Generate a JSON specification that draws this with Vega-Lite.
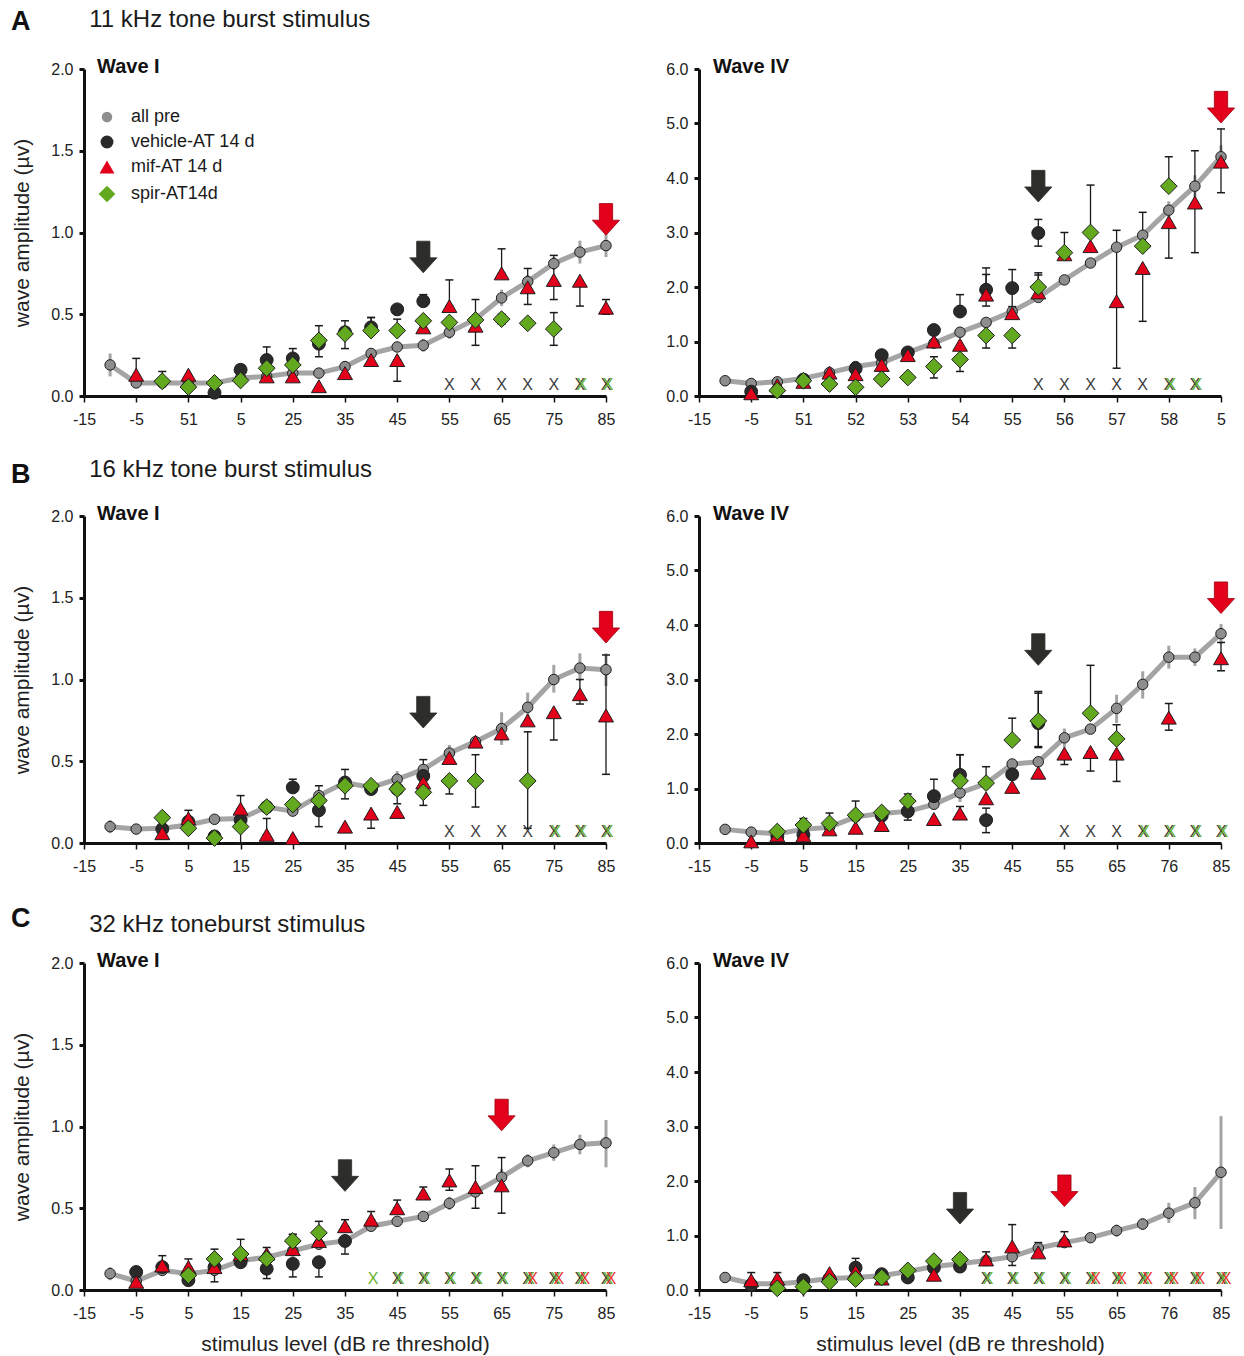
{
"$schema": "https://vega.github.io/schema/vega-lite/v6.json",
"background": "white",
"padding": {"left": 10, "top": 7, "right": 5, "bottom": 5},
"bounds": "flush",
"columns": 2,
"spacing": {"row": 120, "column": 93},
"resolve": {"scale": {"shape": "independent", "fill": "independent", "size": "independent"}, "legend": {"shape": "independent", "fill": "independent", "size": "independent"}},
"datasets": {
"ann": [
{"p":"A1","wave":"Wave I","letter":"A","title":"11 kHz tone burst stimulus"},
{"p":"A4","wave":"Wave IV"},
{"p":"B1","wave":"Wave I","letter":"B","title":"16 kHz tone burst stimulus"},
{"p":"B4","wave":"Wave IV"},
{"p":"C1","wave":"Wave I","letter":"C","title":"32 kHz toneburst stimulus"},
{"p":"C4","wave":"Wave IV"}
],
"pts": [
{"p":"A1","g":"all pre","x":-10,"y":0.19,"lo":0.12,"hi":0.26},
{"p":"A1","g":"all pre","x":-5,"y":0.08,"lo":0.05,"hi":0.11},
{"p":"A1","g":"all pre","x":0,"y":0.08},
{"p":"A1","g":"all pre","x":5,"y":0.08},
{"p":"A1","g":"all pre","x":10,"y":0.08},
{"p":"A1","g":"all pre","x":15,"y":0.11},
{"p":"A1","g":"all pre","x":20,"y":0.12},
{"p":"A1","g":"all pre","x":25,"y":0.14},
{"p":"A1","g":"all pre","x":30,"y":0.14},
{"p":"A1","g":"all pre","x":35,"y":0.18,"lo":0.16,"hi":0.2},
{"p":"A1","g":"all pre","x":40,"y":0.26,"lo":0.23,"hi":0.29},
{"p":"A1","g":"all pre","x":45,"y":0.3,"lo":0.27,"hi":0.33},
{"p":"A1","g":"all pre","x":50,"y":0.31,"lo":0.27,"hi":0.35},
{"p":"A1","g":"all pre","x":55,"y":0.39,"lo":0.35,"hi":0.43},
{"p":"A1","g":"all pre","x":60,"y":0.47},
{"p":"A1","g":"all pre","x":65,"y":0.6,"lo":0.55,"hi":0.65},
{"p":"A1","g":"all pre","x":70,"y":0.7,"lo":0.66,"hi":0.74},
{"p":"A1","g":"all pre","x":75,"y":0.81,"lo":0.77,"hi":0.85},
{"p":"A1","g":"all pre","x":80,"y":0.88,"lo":0.81,"hi":0.95},
{"p":"A1","g":"all pre","x":85,"y":0.92,"lo":0.85,"hi":0.99},
{"p":"A1","g":"vehicle-AT 14 d","x":10,"y":0.02},
{"p":"A1","g":"vehicle-AT 14 d","x":15,"y":0.16,"lo":0.16,"hi":0.19},
{"p":"A1","g":"vehicle-AT 14 d","x":20,"y":0.22,"lo":0.22,"hi":0.3},
{"p":"A1","g":"vehicle-AT 14 d","x":25,"y":0.23,"lo":0.12,"hi":0.29},
{"p":"A1","g":"vehicle-AT 14 d","x":30,"y":0.32},
{"p":"A1","g":"vehicle-AT 14 d","x":35,"y":0.39},
{"p":"A1","g":"vehicle-AT 14 d","x":40,"y":0.42,"lo":0.42,"hi":0.48},
{"p":"A1","g":"vehicle-AT 14 d","x":45,"y":0.53},
{"p":"A1","g":"vehicle-AT 14 d","x":50,"y":0.58,"lo":0.58,"hi":0.62},
{"p":"A1","g":"mif-AT 14 d","x":-5,"y":0.13,"lo":0.13,"hi":0.23},
{"p":"A1","g":"mif-AT 14 d","x":5,"y":0.13},
{"p":"A1","g":"mif-AT 14 d","x":20,"y":0.12},
{"p":"A1","g":"mif-AT 14 d","x":25,"y":0.12},
{"p":"A1","g":"mif-AT 14 d","x":30,"y":0.06},
{"p":"A1","g":"mif-AT 14 d","x":35,"y":0.14},
{"p":"A1","g":"mif-AT 14 d","x":40,"y":0.22},
{"p":"A1","g":"mif-AT 14 d","x":45,"y":0.22,"lo":0.09,"hi":0.22},
{"p":"A1","g":"mif-AT 14 d","x":50,"y":0.42},
{"p":"A1","g":"mif-AT 14 d","x":55,"y":0.55,"lo":0.55,"hi":0.71},
{"p":"A1","g":"mif-AT 14 d","x":60,"y":0.43},
{"p":"A1","g":"mif-AT 14 d","x":65,"y":0.75,"lo":0.75,"hi":0.9},
{"p":"A1","g":"mif-AT 14 d","x":70,"y":0.665,"lo":0.56,"hi":0.78},
{"p":"A1","g":"mif-AT 14 d","x":75,"y":0.71,"lo":0.59,"hi":0.86},
{"p":"A1","g":"mif-AT 14 d","x":80,"y":0.705,"lo":0.55,"hi":0.705},
{"p":"A1","g":"mif-AT 14 d","x":85,"y":0.54,"lo":0.5,"hi":0.59},
{"p":"A1","g":"spir-AT14d","x":0,"y":0.09,"lo":0.09,"hi":0.15},
{"p":"A1","g":"spir-AT14d","x":5,"y":0.055},
{"p":"A1","g":"spir-AT14d","x":10,"y":0.08},
{"p":"A1","g":"spir-AT14d","x":15,"y":0.095},
{"p":"A1","g":"spir-AT14d","x":20,"y":0.17},
{"p":"A1","g":"spir-AT14d","x":25,"y":0.19},
{"p":"A1","g":"spir-AT14d","x":30,"y":0.34,"lo":0.24,"hi":0.43},
{"p":"A1","g":"spir-AT14d","x":35,"y":0.38,"lo":0.29,"hi":0.46},
{"p":"A1","g":"spir-AT14d","x":40,"y":0.4,"lo":0.4,"hi":0.48},
{"p":"A1","g":"spir-AT14d","x":45,"y":0.4,"lo":0.4,"hi":0.47},
{"p":"A1","g":"spir-AT14d","x":50,"y":0.46},
{"p":"A1","g":"spir-AT14d","x":55,"y":0.45},
{"p":"A1","g":"spir-AT14d","x":60,"y":0.465,"lo":0.31,"hi":0.59},
{"p":"A1","g":"spir-AT14d","x":65,"y":0.47,"lo":0.44,"hi":0.5},
{"p":"A1","g":"spir-AT14d","x":70,"y":0.445},
{"p":"A1","g":"spir-AT14d","x":75,"y":0.41,"lo":0.31,"hi":0.51},

{"p":"A4","g":"all pre","x":-10,"y":0.28},
{"p":"A4","g":"all pre","x":-5,"y":0.23},
{"p":"A4","g":"all pre","x":0,"y":0.26},
{"p":"A4","g":"all pre","x":5,"y":0.32},
{"p":"A4","g":"all pre","x":10,"y":0.43},
{"p":"A4","g":"all pre","x":15,"y":0.54},
{"p":"A4","g":"all pre","x":20,"y":0.61},
{"p":"A4","g":"all pre","x":25,"y":0.8},
{"p":"A4","g":"all pre","x":30,"y":0.97},
{"p":"A4","g":"all pre","x":35,"y":1.17},
{"p":"A4","g":"all pre","x":40,"y":1.35},
{"p":"A4","g":"all pre","x":45,"y":1.55},
{"p":"A4","g":"all pre","x":50,"y":1.81},
{"p":"A4","g":"all pre","x":55,"y":2.13},
{"p":"A4","g":"all pre","x":60,"y":2.44},
{"p":"A4","g":"all pre","x":65,"y":2.73},
{"p":"A4","g":"all pre","x":70,"y":2.95,"lo":2.85,"hi":3.05},
{"p":"A4","g":"all pre","x":75,"y":3.41,"lo":3.25,"hi":3.57},
{"p":"A4","g":"all pre","x":80,"y":3.85,"lo":3.65,"hi":4.05},
{"p":"A4","g":"all pre","x":85,"y":4.39,"lo":4.2,"hi":4.6},
{"p":"A4","g":"vehicle-AT 14 d","x":-5,"y":0.08},
{"p":"A4","g":"vehicle-AT 14 d","x":5,"y":0.3},
{"p":"A4","g":"vehicle-AT 14 d","x":15,"y":0.5},
{"p":"A4","g":"vehicle-AT 14 d","x":20,"y":0.75},
{"p":"A4","g":"vehicle-AT 14 d","x":25,"y":0.8},
{"p":"A4","g":"vehicle-AT 14 d","x":30,"y":1.21},
{"p":"A4","g":"vehicle-AT 14 d","x":35,"y":1.55,"lo":1.55,"hi":1.86},
{"p":"A4","g":"vehicle-AT 14 d","x":40,"y":1.95,"lo":1.65,"hi":2.35},
{"p":"A4","g":"vehicle-AT 14 d","x":45,"y":1.98,"lo":1.64,"hi":2.32},
{"p":"A4","g":"vehicle-AT 14 d","x":50,"y":2.99,"lo":2.75,"hi":3.24},
{"p":"A4","g":"mif-AT 14 d","x":-5,"y":0.05},
{"p":"A4","g":"mif-AT 14 d","x":0,"y":0.2},
{"p":"A4","g":"mif-AT 14 d","x":5,"y":0.26},
{"p":"A4","g":"mif-AT 14 d","x":10,"y":0.43},
{"p":"A4","g":"mif-AT 14 d","x":15,"y":0.4},
{"p":"A4","g":"mif-AT 14 d","x":20,"y":0.57},
{"p":"A4","g":"mif-AT 14 d","x":25,"y":0.75},
{"p":"A4","g":"mif-AT 14 d","x":30,"y":1.0},
{"p":"A4","g":"mif-AT 14 d","x":35,"y":0.94},
{"p":"A4","g":"mif-AT 14 d","x":40,"y":1.86,"lo":1.86,"hi":2.23},
{"p":"A4","g":"mif-AT 14 d","x":45,"y":1.52},
{"p":"A4","g":"mif-AT 14 d","x":50,"y":1.9,"lo":1.9,"hi":2.22},
{"p":"A4","g":"mif-AT 14 d","x":55,"y":2.6},
{"p":"A4","g":"mif-AT 14 d","x":60,"y":2.75},
{"p":"A4","g":"mif-AT 14 d","x":65,"y":1.74,"lo":0.51,"hi":3.04},
{"p":"A4","g":"mif-AT 14 d","x":70,"y":2.35,"lo":1.37,"hi":2.35},
{"p":"A4","g":"mif-AT 14 d","x":75,"y":3.19,"lo":2.53,"hi":3.19},
{"p":"A4","g":"mif-AT 14 d","x":80,"y":3.55,"lo":2.63,"hi":4.5},
{"p":"A4","g":"mif-AT 14 d","x":85,"y":4.3,"lo":3.73,"hi":4.9},
{"p":"A4","g":"spir-AT14d","x":0,"y":0.1},
{"p":"A4","g":"spir-AT14d","x":5,"y":0.28},
{"p":"A4","g":"spir-AT14d","x":10,"y":0.22},
{"p":"A4","g":"spir-AT14d","x":15,"y":0.16},
{"p":"A4","g":"spir-AT14d","x":20,"y":0.31},
{"p":"A4","g":"spir-AT14d","x":25,"y":0.34},
{"p":"A4","g":"spir-AT14d","x":30,"y":0.54,"lo":0.33,"hi":0.72},
{"p":"A4","g":"spir-AT14d","x":35,"y":0.67,"lo":0.45,"hi":0.89},
{"p":"A4","g":"spir-AT14d","x":40,"y":1.11,"lo":0.88,"hi":1.11},
{"p":"A4","g":"spir-AT14d","x":45,"y":1.11,"lo":0.88,"hi":1.11},
{"p":"A4","g":"spir-AT14d","x":50,"y":2.0,"lo":2.0,"hi":2.26},
{"p":"A4","g":"spir-AT14d","x":55,"y":2.63,"lo":2.63,"hi":3.0},
{"p":"A4","g":"spir-AT14d","x":60,"y":3.0,"lo":3.0,"hi":3.87},
{"p":"A4","g":"spir-AT14d","x":70,"y":2.75,"lo":2.75,"hi":3.37},
{"p":"A4","g":"spir-AT14d","x":75,"y":3.85,"lo":3.85,"hi":4.39},

{"p":"B1","g":"all pre","x":-10,"y":0.1,"lo":0.06,"hi":0.14},
{"p":"B1","g":"all pre","x":-5,"y":0.085},
{"p":"B1","g":"all pre","x":0,"y":0.09},
{"p":"B1","g":"all pre","x":5,"y":0.11},
{"p":"B1","g":"all pre","x":10,"y":0.145},
{"p":"B1","g":"all pre","x":15,"y":0.15},
{"p":"B1","g":"all pre","x":20,"y":0.22},
{"p":"B1","g":"all pre","x":25,"y":0.195},
{"p":"B1","g":"all pre","x":30,"y":0.29},
{"p":"B1","g":"all pre","x":35,"y":0.37},
{"p":"B1","g":"all pre","x":40,"y":0.34},
{"p":"B1","g":"all pre","x":45,"y":0.39,"lo":0.34,"hi":0.44},
{"p":"B1","g":"all pre","x":50,"y":0.45},
{"p":"B1","g":"all pre","x":55,"y":0.55,"lo":0.5,"hi":0.6},
{"p":"B1","g":"all pre","x":60,"y":0.62},
{"p":"B1","g":"all pre","x":65,"y":0.7,"lo":0.6,"hi":0.8},
{"p":"B1","g":"all pre","x":70,"y":0.83,"lo":0.74,"hi":0.92},
{"p":"B1","g":"all pre","x":75,"y":1.0,"lo":0.92,"hi":1.09},
{"p":"B1","g":"all pre","x":80,"y":1.07,"lo":0.99,"hi":1.16},
{"p":"B1","g":"all pre","x":85,"y":1.06,"lo":0.96,"hi":1.16},
{"p":"B1","g":"vehicle-AT 14 d","x":0,"y":0.085},
{"p":"B1","g":"vehicle-AT 14 d","x":5,"y":0.13},
{"p":"B1","g":"vehicle-AT 14 d","x":10,"y":0.04},
{"p":"B1","g":"vehicle-AT 14 d","x":15,"y":0.14},
{"p":"B1","g":"vehicle-AT 14 d","x":20,"y":0.22},
{"p":"B1","g":"vehicle-AT 14 d","x":25,"y":0.34,"lo":0.34,"hi":0.39},
{"p":"B1","g":"vehicle-AT 14 d","x":30,"y":0.2,"lo":0.1,"hi":0.3},
{"p":"B1","g":"vehicle-AT 14 d","x":35,"y":0.37},
{"p":"B1","g":"vehicle-AT 14 d","x":40,"y":0.33},
{"p":"B1","g":"vehicle-AT 14 d","x":45,"y":0.33,"lo":0.24,"hi":0.33},
{"p":"B1","g":"vehicle-AT 14 d","x":50,"y":0.41},
{"p":"B1","g":"mif-AT 14 d","x":0,"y":0.06},
{"p":"B1","g":"mif-AT 14 d","x":5,"y":0.15,"lo":0.15,"hi":0.2},
{"p":"B1","g":"mif-AT 14 d","x":15,"y":0.21,"lo":0.21,"hi":0.29},
{"p":"B1","g":"mif-AT 14 d","x":20,"y":0.05,"lo":0.05,"hi":0.15},
{"p":"B1","g":"mif-AT 14 d","x":25,"y":0.03},
{"p":"B1","g":"mif-AT 14 d","x":35,"y":0.1},
{"p":"B1","g":"mif-AT 14 d","x":40,"y":0.18,"lo":0.09,"hi":0.18},
{"p":"B1","g":"mif-AT 14 d","x":45,"y":0.19},
{"p":"B1","g":"mif-AT 14 d","x":50,"y":0.37},
{"p":"B1","g":"mif-AT 14 d","x":55,"y":0.52},
{"p":"B1","g":"mif-AT 14 d","x":60,"y":0.62},
{"p":"B1","g":"mif-AT 14 d","x":65,"y":0.67},
{"p":"B1","g":"mif-AT 14 d","x":70,"y":0.75},
{"p":"B1","g":"mif-AT 14 d","x":75,"y":0.8,"lo":0.63,"hi":0.8},
{"p":"B1","g":"mif-AT 14 d","x":80,"y":0.91,"lo":0.85,"hi":1.0},
{"p":"B1","g":"mif-AT 14 d","x":85,"y":0.78,"lo":0.42,"hi":1.15},
{"p":"B1","g":"spir-AT14d","x":0,"y":0.155},
{"p":"B1","g":"spir-AT14d","x":5,"y":0.09},
{"p":"B1","g":"spir-AT14d","x":10,"y":0.03},
{"p":"B1","g":"spir-AT14d","x":15,"y":0.1,"lo":0.0,"hi":0.1},
{"p":"B1","g":"spir-AT14d","x":20,"y":0.22},
{"p":"B1","g":"spir-AT14d","x":25,"y":0.235},
{"p":"B1","g":"spir-AT14d","x":30,"y":0.26,"lo":0.26,"hi":0.35},
{"p":"B1","g":"spir-AT14d","x":35,"y":0.35,"lo":0.27,"hi":0.45},
{"p":"B1","g":"spir-AT14d","x":40,"y":0.35},
{"p":"B1","g":"spir-AT14d","x":45,"y":0.33},
{"p":"B1","g":"spir-AT14d","x":50,"y":0.31,"lo":0.23,"hi":0.51},
{"p":"B1","g":"spir-AT14d","x":55,"y":0.38,"lo":0.3,"hi":0.38},
{"p":"B1","g":"spir-AT14d","x":60,"y":0.38,"lo":0.22,"hi":0.54},
{"p":"B1","g":"spir-AT14d","x":70,"y":0.38,"lo":0.09,"hi":0.68},

{"p":"B4","g":"all pre","x":-10,"y":0.25},
{"p":"B4","g":"all pre","x":-5,"y":0.2},
{"p":"B4","g":"all pre","x":0,"y":0.17},
{"p":"B4","g":"all pre","x":5,"y":0.25},
{"p":"B4","g":"all pre","x":10,"y":0.29},
{"p":"B4","g":"all pre","x":15,"y":0.48},
{"p":"B4","g":"all pre","x":20,"y":0.54},
{"p":"B4","g":"all pre","x":25,"y":0.58},
{"p":"B4","g":"all pre","x":30,"y":0.71},
{"p":"B4","g":"all pre","x":35,"y":0.92,"lo":0.75,"hi":1.1},
{"p":"B4","g":"all pre","x":40,"y":1.09},
{"p":"B4","g":"all pre","x":45,"y":1.45},
{"p":"B4","g":"all pre","x":50,"y":1.49},
{"p":"B4","g":"all pre","x":55,"y":1.93,"lo":1.75,"hi":2.1},
{"p":"B4","g":"all pre","x":60,"y":2.09},
{"p":"B4","g":"all pre","x":65,"y":2.47,"lo":2.2,"hi":2.72},
{"p":"B4","g":"all pre","x":70,"y":2.91,"lo":2.65,"hi":3.15},
{"p":"B4","g":"all pre","x":75,"y":3.41,"lo":3.2,"hi":3.62},
{"p":"B4","g":"all pre","x":80,"y":3.41,"lo":3.25,"hi":3.57},
{"p":"B4","g":"all pre","x":85,"y":3.84,"lo":3.65,"hi":4.02},
{"p":"B4","g":"vehicle-AT 14 d","x":0,"y":0.12},
{"p":"B4","g":"vehicle-AT 14 d","x":5,"y":0.15},
{"p":"B4","g":"vehicle-AT 14 d","x":20,"y":0.5},
{"p":"B4","g":"vehicle-AT 14 d","x":25,"y":0.58,"lo":0.42,"hi":0.58},
{"p":"B4","g":"vehicle-AT 14 d","x":30,"y":0.86,"lo":0.86,"hi":1.17},
{"p":"B4","g":"vehicle-AT 14 d","x":35,"y":1.25,"lo":1.25,"hi":1.62},
{"p":"B4","g":"vehicle-AT 14 d","x":40,"y":0.42,"lo":0.19,"hi":0.64},
{"p":"B4","g":"vehicle-AT 14 d","x":45,"y":1.26},
{"p":"B4","g":"vehicle-AT 14 d","x":50,"y":2.2,"lo":1.75,"hi":2.78},
{"p":"B4","g":"mif-AT 14 d","x":-5,"y":0.03},
{"p":"B4","g":"mif-AT 14 d","x":0,"y":0.14},
{"p":"B4","g":"mif-AT 14 d","x":5,"y":0.14},
{"p":"B4","g":"mif-AT 14 d","x":10,"y":0.25},
{"p":"B4","g":"mif-AT 14 d","x":15,"y":0.28},
{"p":"B4","g":"mif-AT 14 d","x":20,"y":0.33},
{"p":"B4","g":"mif-AT 14 d","x":30,"y":0.44},
{"p":"B4","g":"mif-AT 14 d","x":35,"y":0.54,"lo":0.54,"hi":0.67},
{"p":"B4","g":"mif-AT 14 d","x":40,"y":0.82},
{"p":"B4","g":"mif-AT 14 d","x":45,"y":1.03},
{"p":"B4","g":"mif-AT 14 d","x":50,"y":1.29},
{"p":"B4","g":"mif-AT 14 d","x":55,"y":1.64,"lo":1.44,"hi":1.64},
{"p":"B4","g":"mif-AT 14 d","x":60,"y":1.67,"lo":1.32,"hi":1.67},
{"p":"B4","g":"mif-AT 14 d","x":65,"y":1.64,"lo":1.13,"hi":1.64},
{"p":"B4","g":"mif-AT 14 d","x":75,"y":2.3,"lo":2.07,"hi":2.56},
{"p":"B4","g":"mif-AT 14 d","x":85,"y":3.39,"lo":3.16,"hi":3.68},
{"p":"B4","g":"spir-AT14d","x":0,"y":0.21},
{"p":"B4","g":"spir-AT14d","x":5,"y":0.33,"lo":0.33,"hi":0.45},
{"p":"B4","g":"spir-AT14d","x":10,"y":0.36,"lo":0.36,"hi":0.55},
{"p":"B4","g":"spir-AT14d","x":15,"y":0.51,"lo":0.51,"hi":0.77},
{"p":"B4","g":"spir-AT14d","x":20,"y":0.56},
{"p":"B4","g":"spir-AT14d","x":25,"y":0.77,"lo":0.77,"hi":0.9},
{"p":"B4","g":"spir-AT14d","x":35,"y":1.14,"lo":1.14,"hi":1.62},
{"p":"B4","g":"spir-AT14d","x":40,"y":1.1,"lo":1.1,"hi":1.4},
{"p":"B4","g":"spir-AT14d","x":45,"y":1.89,"lo":1.89,"hi":2.29},
{"p":"B4","g":"spir-AT14d","x":50,"y":2.24,"lo":1.77,"hi":2.75},
{"p":"B4","g":"spir-AT14d","x":60,"y":2.38,"lo":2.38,"hi":3.26},
{"p":"B4","g":"spir-AT14d","x":65,"y":1.91,"lo":1.91,"hi":2.17},

{"p":"C1","g":"all pre","x":-10,"y":0.1,"lo":0.06,"hi":0.14},
{"p":"C1","g":"all pre","x":-5,"y":0.055},
{"p":"C1","g":"all pre","x":0,"y":0.12},
{"p":"C1","g":"all pre","x":5,"y":0.1},
{"p":"C1","g":"all pre","x":10,"y":0.12},
{"p":"C1","g":"all pre","x":15,"y":0.18},
{"p":"C1","g":"all pre","x":20,"y":0.2},
{"p":"C1","g":"all pre","x":25,"y":0.24},
{"p":"C1","g":"all pre","x":30,"y":0.28},
{"p":"C1","g":"all pre","x":35,"y":0.3},
{"p":"C1","g":"all pre","x":40,"y":0.39},
{"p":"C1","g":"all pre","x":45,"y":0.42},
{"p":"C1","g":"all pre","x":50,"y":0.45},
{"p":"C1","g":"all pre","x":55,"y":0.53,"lo":0.49,"hi":0.57},
{"p":"C1","g":"all pre","x":60,"y":0.6},
{"p":"C1","g":"all pre","x":65,"y":0.69,"lo":0.64,"hi":0.74},
{"p":"C1","g":"all pre","x":70,"y":0.79,"lo":0.75,"hi":0.83},
{"p":"C1","g":"all pre","x":75,"y":0.84,"lo":0.79,"hi":0.89},
{"p":"C1","g":"all pre","x":80,"y":0.89,"lo":0.83,"hi":0.95},
{"p":"C1","g":"all pre","x":85,"y":0.9,"lo":0.75,"hi":1.04},
{"p":"C1","g":"vehicle-AT 14 d","x":-5,"y":0.11},
{"p":"C1","g":"vehicle-AT 14 d","x":0,"y":0.14},
{"p":"C1","g":"vehicle-AT 14 d","x":5,"y":0.06},
{"p":"C1","g":"vehicle-AT 14 d","x":10,"y":0.14},
{"p":"C1","g":"vehicle-AT 14 d","x":15,"y":0.17},
{"p":"C1","g":"vehicle-AT 14 d","x":20,"y":0.13,"lo":0.07,"hi":0.13},
{"p":"C1","g":"vehicle-AT 14 d","x":25,"y":0.16,"lo":0.08,"hi":0.16},
{"p":"C1","g":"vehicle-AT 14 d","x":30,"y":0.17,"lo":0.08,"hi":0.17},
{"p":"C1","g":"vehicle-AT 14 d","x":35,"y":0.3,"lo":0.22,"hi":0.3},
{"p":"C1","g":"mif-AT 14 d","x":-5,"y":0.05},
{"p":"C1","g":"mif-AT 14 d","x":0,"y":0.15,"lo":0.15,"hi":0.21},
{"p":"C1","g":"mif-AT 14 d","x":5,"y":0.14,"lo":0.14,"hi":0.19},
{"p":"C1","g":"mif-AT 14 d","x":10,"y":0.14,"lo":0.05,"hi":0.14},
{"p":"C1","g":"mif-AT 14 d","x":15,"y":0.22,"lo":0.22,"hi":0.31},
{"p":"C1","g":"mif-AT 14 d","x":20,"y":0.22,"lo":0.22,"hi":0.26},
{"p":"C1","g":"mif-AT 14 d","x":25,"y":0.25,"lo":0.25,"hi":0.34},
{"p":"C1","g":"mif-AT 14 d","x":30,"y":0.3},
{"p":"C1","g":"mif-AT 14 d","x":35,"y":0.39,"lo":0.39,"hi":0.43},
{"p":"C1","g":"mif-AT 14 d","x":40,"y":0.43,"lo":0.43,"hi":0.48},
{"p":"C1","g":"mif-AT 14 d","x":45,"y":0.5,"lo":0.5,"hi":0.55},
{"p":"C1","g":"mif-AT 14 d","x":50,"y":0.59,"lo":0.59,"hi":0.63},
{"p":"C1","g":"mif-AT 14 d","x":55,"y":0.67,"lo":0.61,"hi":0.74},
{"p":"C1","g":"mif-AT 14 d","x":60,"y":0.63,"lo":0.5,"hi":0.76},
{"p":"C1","g":"mif-AT 14 d","x":65,"y":0.64,"lo":0.47,"hi":0.81},
{"p":"C1","g":"spir-AT14d","x":5,"y":0.09},
{"p":"C1","g":"spir-AT14d","x":10,"y":0.19,"lo":0.19,"hi":0.25},
{"p":"C1","g":"spir-AT14d","x":15,"y":0.22},
{"p":"C1","g":"spir-AT14d","x":20,"y":0.19},
{"p":"C1","g":"spir-AT14d","x":25,"y":0.3,"lo":0.3,"hi":0.34},
{"p":"C1","g":"spir-AT14d","x":30,"y":0.35,"lo":0.35,"hi":0.42},

{"p":"C4","g":"all pre","x":-10,"y":0.23},
{"p":"C4","g":"all pre","x":-5,"y":0.12},
{"p":"C4","g":"all pre","x":0,"y":0.11},
{"p":"C4","g":"all pre","x":5,"y":0.15},
{"p":"C4","g":"all pre","x":10,"y":0.21},
{"p":"C4","g":"all pre","x":15,"y":0.23},
{"p":"C4","g":"all pre","x":20,"y":0.26},
{"p":"C4","g":"all pre","x":25,"y":0.34},
{"p":"C4","g":"all pre","x":30,"y":0.43},
{"p":"C4","g":"all pre","x":35,"y":0.48},
{"p":"C4","g":"all pre","x":40,"y":0.54},
{"p":"C4","g":"all pre","x":45,"y":0.61},
{"p":"C4","g":"all pre","x":50,"y":0.77},
{"p":"C4","g":"all pre","x":55,"y":0.87},
{"p":"C4","g":"all pre","x":60,"y":0.96,"lo":0.88,"hi":1.04},
{"p":"C4","g":"all pre","x":65,"y":1.09,"lo":0.98,"hi":1.2},
{"p":"C4","g":"all pre","x":70,"y":1.21,"lo":1.1,"hi":1.32},
{"p":"C4","g":"all pre","x":75,"y":1.41,"lo":1.23,"hi":1.6},
{"p":"C4","g":"all pre","x":80,"y":1.6,"lo":1.3,"hi":1.89},
{"p":"C4","g":"all pre","x":85,"y":2.16,"lo":1.12,"hi":3.19},
{"p":"C4","g":"vehicle-AT 14 d","x":-5,"y":0.09},
{"p":"C4","g":"vehicle-AT 14 d","x":0,"y":0.09},
{"p":"C4","g":"vehicle-AT 14 d","x":5,"y":0.18},
{"p":"C4","g":"vehicle-AT 14 d","x":10,"y":0.21},
{"p":"C4","g":"vehicle-AT 14 d","x":15,"y":0.41,"lo":0.41,"hi":0.58},
{"p":"C4","g":"vehicle-AT 14 d","x":20,"y":0.29},
{"p":"C4","g":"vehicle-AT 14 d","x":25,"y":0.23},
{"p":"C4","g":"vehicle-AT 14 d","x":30,"y":0.41},
{"p":"C4","g":"vehicle-AT 14 d","x":35,"y":0.43},
{"p":"C4","g":"mif-AT 14 d","x":-5,"y":0.18,"lo":0.18,"hi":0.32},
{"p":"C4","g":"mif-AT 14 d","x":0,"y":0.21,"lo":0.21,"hi":0.32},
{"p":"C4","g":"mif-AT 14 d","x":10,"y":0.31},
{"p":"C4","g":"mif-AT 14 d","x":15,"y":0.34},
{"p":"C4","g":"mif-AT 14 d","x":20,"y":0.21},
{"p":"C4","g":"mif-AT 14 d","x":30,"y":0.28},
{"p":"C4","g":"mif-AT 14 d","x":40,"y":0.56,"lo":0.56,"hi":0.7},
{"p":"C4","g":"mif-AT 14 d","x":45,"y":0.8,"lo":0.45,"hi":1.2},
{"p":"C4","g":"mif-AT 14 d","x":50,"y":0.69,"lo":0.69,"hi":0.87},
{"p":"C4","g":"mif-AT 14 d","x":55,"y":0.91,"lo":0.91,"hi":1.07},
{"p":"C4","g":"spir-AT14d","x":0,"y":0.03},
{"p":"C4","g":"spir-AT14d","x":5,"y":0.06},
{"p":"C4","g":"spir-AT14d","x":10,"y":0.15},
{"p":"C4","g":"spir-AT14d","x":15,"y":0.2},
{"p":"C4","g":"spir-AT14d","x":20,"y":0.23},
{"p":"C4","g":"spir-AT14d","x":25,"y":0.36},
{"p":"C4","g":"spir-AT14d","x":30,"y":0.53},
{"p":"C4","g":"spir-AT14d","x":35,"y":0.56}
],
"arr": [
{"p":"A1","g":"v","x":50,"y":0.85},{"p":"A1","g":"m","x":85,"y":1.08},
{"p":"A4","g":"v","x":50,"y":3.85},{"p":"A4","g":"m","x":85,"y":5.3},
{"p":"B1","g":"v","x":50,"y":0.8},{"p":"B1","g":"m","x":85,"y":1.32},
{"p":"B4","g":"v","x":50,"y":3.55},{"p":"B4","g":"m","x":85,"y":4.5},
{"p":"C1","g":"v","x":35,"y":0.7},{"p":"C1","g":"m","x":65,"y":1.07},
{"p":"C4","g":"v","x":35,"y":1.5},{"p":"C4","g":"m","x":55,"y":1.82}
],
"xm": [
{"p":"A1","g":"v","x":55},{"p":"A1","g":"v","x":60},{"p":"A1","g":"v","x":65},{"p":"A1","g":"v","x":70},{"p":"A1","g":"v","x":75},{"p":"A1","g":"v","x":80},{"p":"A1","g":"v","x":85},
{"p":"A1","g":"s","x":80},{"p":"A1","g":"s","x":85},
{"p":"A4","g":"v","x":50},{"p":"A4","g":"v","x":55},{"p":"A4","g":"v","x":60},{"p":"A4","g":"v","x":65},{"p":"A4","g":"v","x":70},{"p":"A4","g":"v","x":75},{"p":"A4","g":"v","x":80},
{"p":"A4","g":"s","x":75},{"p":"A4","g":"s","x":80},
{"p":"B1","g":"v","x":55},{"p":"B1","g":"v","x":60},{"p":"B1","g":"v","x":65},{"p":"B1","g":"v","x":70},{"p":"B1","g":"v","x":75},{"p":"B1","g":"v","x":80},{"p":"B1","g":"v","x":85},
{"p":"B1","g":"s","x":75},{"p":"B1","g":"s","x":80},{"p":"B1","g":"s","x":85},
{"p":"B4","g":"v","x":55},{"p":"B4","g":"v","x":60},{"p":"B4","g":"v","x":65},{"p":"B4","g":"v","x":70},{"p":"B4","g":"v","x":75},{"p":"B4","g":"v","x":80},{"p":"B4","g":"v","x":85},
{"p":"B4","g":"s","x":70},{"p":"B4","g":"s","x":75},{"p":"B4","g":"s","x":80},{"p":"B4","g":"s","x":85},
{"p":"C1","g":"v","x":45},{"p":"C1","g":"v","x":50},{"p":"C1","g":"v","x":55},{"p":"C1","g":"v","x":60},{"p":"C1","g":"v","x":65},{"p":"C1","g":"v","x":70},{"p":"C1","g":"v","x":75},{"p":"C1","g":"v","x":80},{"p":"C1","g":"v","x":85},
{"p":"C1","g":"s","x":40},{"p":"C1","g":"s","x":45},{"p":"C1","g":"s","x":50},{"p":"C1","g":"s","x":55},{"p":"C1","g":"s","x":60},{"p":"C1","g":"s","x":65},{"p":"C1","g":"s","x":70},{"p":"C1","g":"s","x":75},{"p":"C1","g":"s","x":80},{"p":"C1","g":"s","x":85},
{"p":"C1","g":"m","x":70},{"p":"C1","g":"m","x":75},{"p":"C1","g":"m","x":80},{"p":"C1","g":"m","x":85},
{"p":"C4","g":"v","x":40},{"p":"C4","g":"v","x":45},{"p":"C4","g":"v","x":50},{"p":"C4","g":"v","x":55},{"p":"C4","g":"v","x":60},{"p":"C4","g":"v","x":65},{"p":"C4","g":"v","x":70},{"p":"C4","g":"v","x":75},{"p":"C4","g":"v","x":80},{"p":"C4","g":"v","x":85},
{"p":"C4","g":"s","x":40},{"p":"C4","g":"s","x":45},{"p":"C4","g":"s","x":50},{"p":"C4","g":"s","x":55},{"p":"C4","g":"s","x":60},{"p":"C4","g":"s","x":65},{"p":"C4","g":"s","x":70},{"p":"C4","g":"s","x":75},{"p":"C4","g":"s","x":80},{"p":"C4","g":"s","x":85},
{"p":"C4","g":"m","x":60},{"p":"C4","g":"m","x":65},{"p":"C4","g":"m","x":70},{"p":"C4","g":"m","x":75},{"p":"C4","g":"m","x":80},{"p":"C4","g":"m","x":85}
]
},
"concat": [
{"width": 522, "height": 327, "layer": [
 {"data":{"name":"pts"},"transform":[{"filter":"datum.p=='A1' && datum.g=='all pre'"}],"mark":{"type":"line","color":"#a4a4a4","strokeWidth":5},
  "encoding":{"x":{"field":"x","type":"quantitative","scale":{"domain":[-15,85],"nice":false,"zero":false},"axis":{"values":[-15,-5,5,15,25,35,45,55,65,75,85],"labelExpr":"datum.value==5?'51':datum.value==15?'5':''+datum.value","title":null}},
   "y":{"field":"y","type":"quantitative","scale":{"domain":[0,2],"nice":false},"axis":{"values":[0,0.5,1,1.5,2],"format":".1f","title":"wave amplitude (µv)"}}}},
 {"data":{"name":"pts"},"transform":[{"filter":"datum.p=='A1' && datum.g=='all pre' && isValid(datum.lo)"}],"mark":{"type":"rule","color":"#a4a4a4","strokeWidth":3},"encoding":{"x":{"field":"x","type":"quantitative"},"y":{"field":"lo","type":"quantitative"},"y2":{"field":"hi"}}},
 {"data":{"name":"pts"},"transform":[{"filter":"datum.p=='A1' && datum.g!='all pre' && isValid(datum.lo)"}],"mark":{"type":"rule","color":"#1a1a1a","strokeWidth":1.3},"encoding":{"x":{"field":"x","type":"quantitative"},"y":{"field":"lo","type":"quantitative"},"y2":{"field":"hi"}}},
 {"data":{"name":"pts"},"transform":[{"filter":"datum.p=='A1' && datum.g!='all pre' && isValid(datum.lo)"},{"fold":["lo","hi"],"as":["k","v"]}],"mark":{"type":"point","shape":"M-1,0L1,0","filled":false,"color":"#1a1a1a","strokeWidth":1.5,"size":64,"opacity":1},"encoding":{"x":{"field":"x","type":"quantitative"},"y":{"field":"v","type":"quantitative"}}},
 {"data":{"name":"pts"},"transform":[{"filter":"datum.p=='A1'"}],"mark":{"type":"point","filled":true,"opacity":1,"stroke":"#1e1e1e","strokeWidth":1},
  "encoding":{"x":{"field":"x","type":"quantitative"},"y":{"field":"y","type":"quantitative"},
   "shape":{"field":"g","type":"nominal","scale":{"domain":["all pre","vehicle-AT 14 d","mif-AT 14 d","spir-AT14d"],"range":["circle","circle","triangle-up","diamond"]},"legend":{"title":null,"orient":"none","legendX":14,"legendY":39,"labelFontSize":18,"labelFont":"Liberation Sans","labelColor":"#1a1a1a","symbolStrokeColor":"#1e1e1e","symbolStrokeWidth":1,"rowPadding":7,"labelOffset":15,"padding":0,"symbolOpacity":1}},
   "fill":{"field":"g","type":"nominal","scale":{"domain":["all pre","vehicle-AT 14 d","mif-AT 14 d","spir-AT14d"],"range":["#8e8e8e","#2a2a2a","#e2001a","#62a91f"]},"legend":{"title":null,"orient":"none","legendX":14,"legendY":39,"labelFontSize":18,"labelFont":"Liberation Sans","labelColor":"#1a1a1a","symbolStrokeColor":"#1e1e1e","symbolStrokeWidth":1,"rowPadding":7,"labelOffset":15,"padding":0,"symbolOpacity":1}},
   "size":{"field":"g","type":"nominal","scale":{"domain":["all pre","vehicle-AT 14 d","mif-AT 14 d","spir-AT14d"],"range":[110,280,300,300]},"legend":{"title":null,"orient":"none","legendX":14,"legendY":39,"labelFontSize":18,"labelFont":"Liberation Sans","labelColor":"#1a1a1a","symbolStrokeColor":"#1e1e1e","symbolStrokeWidth":1,"rowPadding":7,"labelOffset":15,"padding":0,"symbolOpacity":1}}}},
 {"data":{"name":"arr"},"transform":[{"filter":"datum.p=='A1' && datum.g=='v'"}],"mark":{"type":"point","shape":"M-0.42,-1L0.42,-1L0.42,0.05L0.86,0.05L0,1L-0.86,0.05L-0.42,0.05Z","filled":true,"fill":"#2d2d2a","stroke":"#2d2d2a","strokeWidth":0.8,"size":1000,"opacity":1},"encoding":{"x":{"field":"x","type":"quantitative"},"y":{"field":"y","type":"quantitative"}}},
 {"data":{"name":"arr"},"transform":[{"filter":"datum.p=='A1' && datum.g=='m'"}],"mark":{"type":"point","shape":"M-0.42,-1L0.42,-1L0.42,0.05L0.86,0.05L0,1L-0.86,0.05L-0.42,0.05Z","filled":true,"fill":"#e3001b","stroke":"#9a0010","strokeWidth":0.8,"size":1000,"opacity":1},"encoding":{"x":{"field":"x","type":"quantitative"},"y":{"field":"y","type":"quantitative"}}},
 {"data":{"name":"xm"},"transform":[{"filter":"datum.p=='A1' && datum.g=='v'"}],"mark":{"type":"text","text":"X","fontSize":16,"color":"#3d3d3d","baseline":"middle","dy":-11},"encoding":{"x":{"field":"x","type":"quantitative"},"y":{"datum":0,"type":"quantitative"}}},
 {"data":{"name":"xm"},"transform":[{"filter":"datum.p=='A1' && datum.g=='s'"}],"mark":{"type":"text","text":"X","fontSize":16,"color":"#67b22a","baseline":"middle","dy":-11,"dx":2},"encoding":{"x":{"field":"x","type":"quantitative"},"y":{"datum":0,"type":"quantitative"}}},
 {"data":{"name":"ann"},"transform":[{"filter":"datum.p=='A1'"}],"mark":{"type":"text","align":"left","baseline":"middle","fontSize":20,"fontWeight":"bold","color":"#111111","dy":-2},"encoding":{"text":{"field":"wave"},"x":{"datum":-12.5,"type":"quantitative"},"y":{"datum":2,"type":"quantitative"}}},
 {"data":{"name":"ann"},"transform":[{"filter":"datum.p=='A1'"}],"mark":{"type":"text","align":"left","baseline":"middle","fontSize":27,"fontWeight":"bold","color":"#111111"},"encoding":{"text":{"field":"letter"},"x":{"datum":-29,"type":"quantitative"},"y":{"datum":2.29,"type":"quantitative"}}},
 {"data":{"name":"ann"},"transform":[{"filter":"datum.p=='A1'"}],"mark":{"type":"text","align":"left","baseline":"middle","fontSize":24,"color":"#1a1a1a"},"encoding":{"text":{"field":"title"},"x":{"datum":-14,"type":"quantitative"},"y":{"datum":2.3,"type":"quantitative"}}}
]},
{"width": 522, "height": 327, "layer": [
 {"data":{"name":"pts"},"transform":[{"filter":"datum.p=='A4' && datum.g=='all pre'"}],"mark":{"type":"line","color":"#a4a4a4","strokeWidth":5},
  "encoding":{"x":{"field":"x","type":"quantitative","scale":{"domain":[-15,85],"nice":false,"zero":false},"axis":{"values":[-15,-5,5,15,25,35,45,55,65,75,85],"labelExpr":"datum.value==5?'51':datum.value==15?'52':datum.value==25?'53':datum.value==35?'54':datum.value==45?'55':datum.value==55?'56':datum.value==65?'57':datum.value==75?'58':datum.value==85?'5':''+datum.value","title":null}},
   "y":{"field":"y","type":"quantitative","scale":{"domain":[0,6],"nice":false},"axis":{"values":[0,1,2,3,4,5,6],"format":".1f","title":null}}}},
 {"data":{"name":"pts"},"transform":[{"filter":"datum.p=='A4' && datum.g=='all pre' && isValid(datum.lo)"}],"mark":{"type":"rule","color":"#a4a4a4","strokeWidth":3},"encoding":{"x":{"field":"x","type":"quantitative"},"y":{"field":"lo","type":"quantitative"},"y2":{"field":"hi"}}},
 {"data":{"name":"pts"},"transform":[{"filter":"datum.p=='A4' && datum.g!='all pre' && isValid(datum.lo)"}],"mark":{"type":"rule","color":"#1a1a1a","strokeWidth":1.3},"encoding":{"x":{"field":"x","type":"quantitative"},"y":{"field":"lo","type":"quantitative"},"y2":{"field":"hi"}}},
 {"data":{"name":"pts"},"transform":[{"filter":"datum.p=='A4' && datum.g!='all pre' && isValid(datum.lo)"},{"fold":["lo","hi"],"as":["k","v"]}],"mark":{"type":"point","shape":"M-1,0L1,0","filled":false,"color":"#1a1a1a","strokeWidth":1.5,"size":64,"opacity":1},"encoding":{"x":{"field":"x","type":"quantitative"},"y":{"field":"v","type":"quantitative"}}},
 {"data":{"name":"pts"},"transform":[{"filter":"datum.p=='A4'"}],"mark":{"type":"point","filled":true,"opacity":1,"stroke":"#1e1e1e","strokeWidth":1},
  "encoding":{"x":{"field":"x","type":"quantitative"},"y":{"field":"y","type":"quantitative"},
   "shape":{"field":"g","type":"nominal","scale":{"domain":["all pre","vehicle-AT 14 d","mif-AT 14 d","spir-AT14d"],"range":["circle","circle","triangle-up","diamond"]},"legend":null},
   "fill":{"field":"g","type":"nominal","scale":{"domain":["all pre","vehicle-AT 14 d","mif-AT 14 d","spir-AT14d"],"range":["#8e8e8e","#2a2a2a","#e2001a","#62a91f"]},"legend":null},
   "size":{"field":"g","type":"nominal","scale":{"domain":["all pre","vehicle-AT 14 d","mif-AT 14 d","spir-AT14d"],"range":[110,280,300,300]},"legend":null}}},
 {"data":{"name":"arr"},"transform":[{"filter":"datum.p=='A4' && datum.g=='v'"}],"mark":{"type":"point","shape":"M-0.42,-1L0.42,-1L0.42,0.05L0.86,0.05L0,1L-0.86,0.05L-0.42,0.05Z","filled":true,"fill":"#2d2d2a","stroke":"#2d2d2a","strokeWidth":0.8,"size":1000,"opacity":1},"encoding":{"x":{"field":"x","type":"quantitative"},"y":{"field":"y","type":"quantitative"}}},
 {"data":{"name":"arr"},"transform":[{"filter":"datum.p=='A4' && datum.g=='m'"}],"mark":{"type":"point","shape":"M-0.42,-1L0.42,-1L0.42,0.05L0.86,0.05L0,1L-0.86,0.05L-0.42,0.05Z","filled":true,"fill":"#e3001b","stroke":"#9a0010","strokeWidth":0.8,"size":1000,"opacity":1},"encoding":{"x":{"field":"x","type":"quantitative"},"y":{"field":"y","type":"quantitative"}}},
 {"data":{"name":"xm"},"transform":[{"filter":"datum.p=='A4' && datum.g=='v'"}],"mark":{"type":"text","text":"X","fontSize":16,"color":"#3d3d3d","baseline":"middle","dy":-11},"encoding":{"x":{"field":"x","type":"quantitative"},"y":{"datum":0,"type":"quantitative"}}},
 {"data":{"name":"xm"},"transform":[{"filter":"datum.p=='A4' && datum.g=='s'"}],"mark":{"type":"text","text":"X","fontSize":16,"color":"#67b22a","baseline":"middle","dy":-11,"dx":2},"encoding":{"x":{"field":"x","type":"quantitative"},"y":{"datum":0,"type":"quantitative"}}},
 {"data":{"name":"ann"},"transform":[{"filter":"datum.p=='A4'"}],"mark":{"type":"text","align":"left","baseline":"middle","fontSize":20,"fontWeight":"bold","color":"#111111","dy":-2},"encoding":{"text":{"field":"wave"},"x":{"datum":-12.3,"type":"quantitative"},"y":{"datum":6,"type":"quantitative"}}}
]},
{"width": 522, "height": 327, "layer": [
 {"data":{"name":"pts"},"transform":[{"filter":"datum.p=='B1' && datum.g=='all pre'"}],"mark":{"type":"line","color":"#a4a4a4","strokeWidth":5},
  "encoding":{"x":{"field":"x","type":"quantitative","scale":{"domain":[-15,85],"nice":false,"zero":false},"axis":{"values":[-15,-5,5,15,25,35,45,55,65,75,85],"labelExpr":"''+datum.value","title":null}},
   "y":{"field":"y","type":"quantitative","scale":{"domain":[0,2],"nice":false},"axis":{"values":[0,0.5,1,1.5,2],"format":".1f","title":"wave amplitude (µv)"}}}},
 {"data":{"name":"pts"},"transform":[{"filter":"datum.p=='B1' && datum.g=='all pre' && isValid(datum.lo)"}],"mark":{"type":"rule","color":"#a4a4a4","strokeWidth":3},"encoding":{"x":{"field":"x","type":"quantitative"},"y":{"field":"lo","type":"quantitative"},"y2":{"field":"hi"}}},
 {"data":{"name":"pts"},"transform":[{"filter":"datum.p=='B1' && datum.g!='all pre' && isValid(datum.lo)"}],"mark":{"type":"rule","color":"#1a1a1a","strokeWidth":1.3},"encoding":{"x":{"field":"x","type":"quantitative"},"y":{"field":"lo","type":"quantitative"},"y2":{"field":"hi"}}},
 {"data":{"name":"pts"},"transform":[{"filter":"datum.p=='B1' && datum.g!='all pre' && isValid(datum.lo)"},{"fold":["lo","hi"],"as":["k","v"]}],"mark":{"type":"point","shape":"M-1,0L1,0","filled":false,"color":"#1a1a1a","strokeWidth":1.5,"size":64,"opacity":1},"encoding":{"x":{"field":"x","type":"quantitative"},"y":{"field":"v","type":"quantitative"}}},
 {"data":{"name":"pts"},"transform":[{"filter":"datum.p=='B1'"}],"mark":{"type":"point","filled":true,"opacity":1,"stroke":"#1e1e1e","strokeWidth":1},
  "encoding":{"x":{"field":"x","type":"quantitative"},"y":{"field":"y","type":"quantitative"},
   "shape":{"field":"g","type":"nominal","scale":{"domain":["all pre","vehicle-AT 14 d","mif-AT 14 d","spir-AT14d"],"range":["circle","circle","triangle-up","diamond"]},"legend":null},
   "fill":{"field":"g","type":"nominal","scale":{"domain":["all pre","vehicle-AT 14 d","mif-AT 14 d","spir-AT14d"],"range":["#8e8e8e","#2a2a2a","#e2001a","#62a91f"]},"legend":null},
   "size":{"field":"g","type":"nominal","scale":{"domain":["all pre","vehicle-AT 14 d","mif-AT 14 d","spir-AT14d"],"range":[110,280,300,300]},"legend":null}}},
 {"data":{"name":"arr"},"transform":[{"filter":"datum.p=='B1' && datum.g=='v'"}],"mark":{"type":"point","shape":"M-0.42,-1L0.42,-1L0.42,0.05L0.86,0.05L0,1L-0.86,0.05L-0.42,0.05Z","filled":true,"fill":"#2d2d2a","stroke":"#2d2d2a","strokeWidth":0.8,"size":1000,"opacity":1},"encoding":{"x":{"field":"x","type":"quantitative"},"y":{"field":"y","type":"quantitative"}}},
 {"data":{"name":"arr"},"transform":[{"filter":"datum.p=='B1' && datum.g=='m'"}],"mark":{"type":"point","shape":"M-0.42,-1L0.42,-1L0.42,0.05L0.86,0.05L0,1L-0.86,0.05L-0.42,0.05Z","filled":true,"fill":"#e3001b","stroke":"#9a0010","strokeWidth":0.8,"size":1000,"opacity":1},"encoding":{"x":{"field":"x","type":"quantitative"},"y":{"field":"y","type":"quantitative"}}},
 {"data":{"name":"xm"},"transform":[{"filter":"datum.p=='B1' && datum.g=='v'"}],"mark":{"type":"text","text":"X","fontSize":16,"color":"#3d3d3d","baseline":"middle","dy":-11},"encoding":{"x":{"field":"x","type":"quantitative"},"y":{"datum":0,"type":"quantitative"}}},
 {"data":{"name":"xm"},"transform":[{"filter":"datum.p=='B1' && datum.g=='s'"}],"mark":{"type":"text","text":"X","fontSize":16,"color":"#67b22a","baseline":"middle","dy":-11,"dx":2},"encoding":{"x":{"field":"x","type":"quantitative"},"y":{"datum":0,"type":"quantitative"}}},
 {"data":{"name":"ann"},"transform":[{"filter":"datum.p=='B1'"}],"mark":{"type":"text","align":"left","baseline":"middle","fontSize":20,"fontWeight":"bold","color":"#111111","dy":-2},"encoding":{"text":{"field":"wave"},"x":{"datum":-12.5,"type":"quantitative"},"y":{"datum":2,"type":"quantitative"}}},
 {"data":{"name":"ann"},"transform":[{"filter":"datum.p=='B1'"}],"mark":{"type":"text","align":"left","baseline":"middle","fontSize":27,"fontWeight":"bold","color":"#111111"},"encoding":{"text":{"field":"letter"},"x":{"datum":-29,"type":"quantitative"},"y":{"datum":2.25,"type":"quantitative"}}},
 {"data":{"name":"ann"},"transform":[{"filter":"datum.p=='B1'"}],"mark":{"type":"text","align":"left","baseline":"middle","fontSize":24,"color":"#1a1a1a"},"encoding":{"text":{"field":"title"},"x":{"datum":-14,"type":"quantitative"},"y":{"datum":2.28,"type":"quantitative"}}}
]},
{"width": 522, "height": 327, "layer": [
 {"data":{"name":"pts"},"transform":[{"filter":"datum.p=='B4' && datum.g=='all pre'"}],"mark":{"type":"line","color":"#a4a4a4","strokeWidth":5},
  "encoding":{"x":{"field":"x","type":"quantitative","scale":{"domain":[-15,85],"nice":false,"zero":false},"axis":{"values":[-15,-5,5,15,25,35,45,55,65,75,85],"labelExpr":"datum.value==75?'76':''+datum.value","title":null}},
   "y":{"field":"y","type":"quantitative","scale":{"domain":[0,6],"nice":false},"axis":{"values":[0,1,2,3,4,5,6],"format":".1f","title":null}}}},
 {"data":{"name":"pts"},"transform":[{"filter":"datum.p=='B4' && datum.g=='all pre' && isValid(datum.lo)"}],"mark":{"type":"rule","color":"#a4a4a4","strokeWidth":3},"encoding":{"x":{"field":"x","type":"quantitative"},"y":{"field":"lo","type":"quantitative"},"y2":{"field":"hi"}}},
 {"data":{"name":"pts"},"transform":[{"filter":"datum.p=='B4' && datum.g!='all pre' && isValid(datum.lo)"}],"mark":{"type":"rule","color":"#1a1a1a","strokeWidth":1.3},"encoding":{"x":{"field":"x","type":"quantitative"},"y":{"field":"lo","type":"quantitative"},"y2":{"field":"hi"}}},
 {"data":{"name":"pts"},"transform":[{"filter":"datum.p=='B4' && datum.g!='all pre' && isValid(datum.lo)"},{"fold":["lo","hi"],"as":["k","v"]}],"mark":{"type":"point","shape":"M-1,0L1,0","filled":false,"color":"#1a1a1a","strokeWidth":1.5,"size":64,"opacity":1},"encoding":{"x":{"field":"x","type":"quantitative"},"y":{"field":"v","type":"quantitative"}}},
 {"data":{"name":"pts"},"transform":[{"filter":"datum.p=='B4'"}],"mark":{"type":"point","filled":true,"opacity":1,"stroke":"#1e1e1e","strokeWidth":1},
  "encoding":{"x":{"field":"x","type":"quantitative"},"y":{"field":"y","type":"quantitative"},
   "shape":{"field":"g","type":"nominal","scale":{"domain":["all pre","vehicle-AT 14 d","mif-AT 14 d","spir-AT14d"],"range":["circle","circle","triangle-up","diamond"]},"legend":null},
   "fill":{"field":"g","type":"nominal","scale":{"domain":["all pre","vehicle-AT 14 d","mif-AT 14 d","spir-AT14d"],"range":["#8e8e8e","#2a2a2a","#e2001a","#62a91f"]},"legend":null},
   "size":{"field":"g","type":"nominal","scale":{"domain":["all pre","vehicle-AT 14 d","mif-AT 14 d","spir-AT14d"],"range":[110,280,300,300]},"legend":null}}},
 {"data":{"name":"arr"},"transform":[{"filter":"datum.p=='B4' && datum.g=='v'"}],"mark":{"type":"point","shape":"M-0.42,-1L0.42,-1L0.42,0.05L0.86,0.05L0,1L-0.86,0.05L-0.42,0.05Z","filled":true,"fill":"#2d2d2a","stroke":"#2d2d2a","strokeWidth":0.8,"size":1000,"opacity":1},"encoding":{"x":{"field":"x","type":"quantitative"},"y":{"field":"y","type":"quantitative"}}},
 {"data":{"name":"arr"},"transform":[{"filter":"datum.p=='B4' && datum.g=='m'"}],"mark":{"type":"point","shape":"M-0.42,-1L0.42,-1L0.42,0.05L0.86,0.05L0,1L-0.86,0.05L-0.42,0.05Z","filled":true,"fill":"#e3001b","stroke":"#9a0010","strokeWidth":0.8,"size":1000,"opacity":1},"encoding":{"x":{"field":"x","type":"quantitative"},"y":{"field":"y","type":"quantitative"}}},
 {"data":{"name":"xm"},"transform":[{"filter":"datum.p=='B4' && datum.g=='v'"}],"mark":{"type":"text","text":"X","fontSize":16,"color":"#3d3d3d","baseline":"middle","dy":-11},"encoding":{"x":{"field":"x","type":"quantitative"},"y":{"datum":0,"type":"quantitative"}}},
 {"data":{"name":"xm"},"transform":[{"filter":"datum.p=='B4' && datum.g=='s'"}],"mark":{"type":"text","text":"X","fontSize":16,"color":"#67b22a","baseline":"middle","dy":-11,"dx":2},"encoding":{"x":{"field":"x","type":"quantitative"},"y":{"datum":0,"type":"quantitative"}}},
 {"data":{"name":"ann"},"transform":[{"filter":"datum.p=='B4'"}],"mark":{"type":"text","align":"left","baseline":"middle","fontSize":20,"fontWeight":"bold","color":"#111111","dy":-2},"encoding":{"text":{"field":"wave"},"x":{"datum":-12.3,"type":"quantitative"},"y":{"datum":6,"type":"quantitative"}}}
]},
{"width": 522, "height": 327, "layer": [
 {"data":{"name":"pts"},"transform":[{"filter":"datum.p=='C1' && datum.g=='all pre'"}],"mark":{"type":"line","color":"#a4a4a4","strokeWidth":5},
  "encoding":{"x":{"field":"x","type":"quantitative","scale":{"domain":[-15,85],"nice":false,"zero":false},"axis":{"values":[-15,-5,5,15,25,35,45,55,65,75,85],"labelExpr":"''+datum.value","title":"stimulus level (dB re threshold)"}},
   "y":{"field":"y","type":"quantitative","scale":{"domain":[0,2],"nice":false},"axis":{"values":[0,0.5,1,1.5,2],"format":".1f","title":"wave amplitude (µv)"}}}},
 {"data":{"name":"pts"},"transform":[{"filter":"datum.p=='C1' && datum.g=='all pre' && isValid(datum.lo)"}],"mark":{"type":"rule","color":"#a4a4a4","strokeWidth":3},"encoding":{"x":{"field":"x","type":"quantitative"},"y":{"field":"lo","type":"quantitative"},"y2":{"field":"hi"}}},
 {"data":{"name":"pts"},"transform":[{"filter":"datum.p=='C1' && datum.g!='all pre' && isValid(datum.lo)"}],"mark":{"type":"rule","color":"#1a1a1a","strokeWidth":1.3},"encoding":{"x":{"field":"x","type":"quantitative"},"y":{"field":"lo","type":"quantitative"},"y2":{"field":"hi"}}},
 {"data":{"name":"pts"},"transform":[{"filter":"datum.p=='C1' && datum.g!='all pre' && isValid(datum.lo)"},{"fold":["lo","hi"],"as":["k","v"]}],"mark":{"type":"point","shape":"M-1,0L1,0","filled":false,"color":"#1a1a1a","strokeWidth":1.5,"size":64,"opacity":1},"encoding":{"x":{"field":"x","type":"quantitative"},"y":{"field":"v","type":"quantitative"}}},
 {"data":{"name":"pts"},"transform":[{"filter":"datum.p=='C1'"}],"mark":{"type":"point","filled":true,"opacity":1,"stroke":"#1e1e1e","strokeWidth":1},
  "encoding":{"x":{"field":"x","type":"quantitative"},"y":{"field":"y","type":"quantitative"},
   "shape":{"field":"g","type":"nominal","scale":{"domain":["all pre","vehicle-AT 14 d","mif-AT 14 d","spir-AT14d"],"range":["circle","circle","triangle-up","diamond"]},"legend":null},
   "fill":{"field":"g","type":"nominal","scale":{"domain":["all pre","vehicle-AT 14 d","mif-AT 14 d","spir-AT14d"],"range":["#8e8e8e","#2a2a2a","#e2001a","#62a91f"]},"legend":null},
   "size":{"field":"g","type":"nominal","scale":{"domain":["all pre","vehicle-AT 14 d","mif-AT 14 d","spir-AT14d"],"range":[110,280,300,300]},"legend":null}}},
 {"data":{"name":"arr"},"transform":[{"filter":"datum.p=='C1' && datum.g=='v'"}],"mark":{"type":"point","shape":"M-0.42,-1L0.42,-1L0.42,0.05L0.86,0.05L0,1L-0.86,0.05L-0.42,0.05Z","filled":true,"fill":"#2d2d2a","stroke":"#2d2d2a","strokeWidth":0.8,"size":1000,"opacity":1},"encoding":{"x":{"field":"x","type":"quantitative"},"y":{"field":"y","type":"quantitative"}}},
 {"data":{"name":"arr"},"transform":[{"filter":"datum.p=='C1' && datum.g=='m'"}],"mark":{"type":"point","shape":"M-0.42,-1L0.42,-1L0.42,0.05L0.86,0.05L0,1L-0.86,0.05L-0.42,0.05Z","filled":true,"fill":"#e3001b","stroke":"#9a0010","strokeWidth":0.8,"size":1000,"opacity":1},"encoding":{"x":{"field":"x","type":"quantitative"},"y":{"field":"y","type":"quantitative"}}},
 {"data":{"name":"xm"},"transform":[{"filter":"datum.p=='C1' && datum.g=='v'"}],"mark":{"type":"text","text":"X","fontSize":16,"color":"#3d3d3d","baseline":"middle","dy":-11},"encoding":{"x":{"field":"x","type":"quantitative"},"y":{"datum":0,"type":"quantitative"}}},
 {"data":{"name":"xm"},"transform":[{"filter":"datum.p=='C1' && datum.g=='s'"}],"mark":{"type":"text","text":"X","fontSize":16,"color":"#67b22a","baseline":"middle","dy":-11,"dx":2},"encoding":{"x":{"field":"x","type":"quantitative"},"y":{"datum":0,"type":"quantitative"}}},
 {"data":{"name":"xm"},"transform":[{"filter":"datum.p=='C1' && datum.g=='m'"}],"mark":{"type":"text","text":"X","fontSize":16,"color":"#e8362c","baseline":"middle","dy":-11,"dx":5},"encoding":{"x":{"field":"x","type":"quantitative"},"y":{"datum":0,"type":"quantitative"}}},
 {"data":{"name":"ann"},"transform":[{"filter":"datum.p=='C1'"}],"mark":{"type":"text","align":"left","baseline":"middle","fontSize":20,"fontWeight":"bold","color":"#111111","dy":-2},"encoding":{"text":{"field":"wave"},"x":{"datum":-12.5,"type":"quantitative"},"y":{"datum":2,"type":"quantitative"}}},
 {"data":{"name":"ann"},"transform":[{"filter":"datum.p=='C1'"}],"mark":{"type":"text","align":"left","baseline":"middle","fontSize":27,"fontWeight":"bold","color":"#111111"},"encoding":{"text":{"field":"letter"},"x":{"datum":-29,"type":"quantitative"},"y":{"datum":2.27,"type":"quantitative"}}},
 {"data":{"name":"ann"},"transform":[{"filter":"datum.p=='C1'"}],"mark":{"type":"text","align":"left","baseline":"middle","fontSize":24,"color":"#1a1a1a"},"encoding":{"text":{"field":"title"},"x":{"datum":-14,"type":"quantitative"},"y":{"datum":2.23,"type":"quantitative"}}}
]},
{"width": 522, "height": 327, "layer": [
 {"data":{"name":"pts"},"transform":[{"filter":"datum.p=='C4' && datum.g=='all pre'"}],"mark":{"type":"line","color":"#a4a4a4","strokeWidth":5},
  "encoding":{"x":{"field":"x","type":"quantitative","scale":{"domain":[-15,85],"nice":false,"zero":false},"axis":{"values":[-15,-5,5,15,25,35,45,55,65,75,85],"labelExpr":"datum.value==75?'76':''+datum.value","title":"stimulus level (dB re threshold)"}},
   "y":{"field":"y","type":"quantitative","scale":{"domain":[0,6],"nice":false},"axis":{"values":[0,1,2,3,4,5,6],"format":".1f","title":null}}}},
 {"data":{"name":"pts"},"transform":[{"filter":"datum.p=='C4' && datum.g=='all pre' && isValid(datum.lo)"}],"mark":{"type":"rule","color":"#a4a4a4","strokeWidth":3},"encoding":{"x":{"field":"x","type":"quantitative"},"y":{"field":"lo","type":"quantitative"},"y2":{"field":"hi"}}},
 {"data":{"name":"pts"},"transform":[{"filter":"datum.p=='C4' && datum.g!='all pre' && isValid(datum.lo)"}],"mark":{"type":"rule","color":"#1a1a1a","strokeWidth":1.3},"encoding":{"x":{"field":"x","type":"quantitative"},"y":{"field":"lo","type":"quantitative"},"y2":{"field":"hi"}}},
 {"data":{"name":"pts"},"transform":[{"filter":"datum.p=='C4' && datum.g!='all pre' && isValid(datum.lo)"},{"fold":["lo","hi"],"as":["k","v"]}],"mark":{"type":"point","shape":"M-1,0L1,0","filled":false,"color":"#1a1a1a","strokeWidth":1.5,"size":64,"opacity":1},"encoding":{"x":{"field":"x","type":"quantitative"},"y":{"field":"v","type":"quantitative"}}},
 {"data":{"name":"pts"},"transform":[{"filter":"datum.p=='C4'"}],"mark":{"type":"point","filled":true,"opacity":1,"stroke":"#1e1e1e","strokeWidth":1},
  "encoding":{"x":{"field":"x","type":"quantitative"},"y":{"field":"y","type":"quantitative"},
   "shape":{"field":"g","type":"nominal","scale":{"domain":["all pre","vehicle-AT 14 d","mif-AT 14 d","spir-AT14d"],"range":["circle","circle","triangle-up","diamond"]},"legend":null},
   "fill":{"field":"g","type":"nominal","scale":{"domain":["all pre","vehicle-AT 14 d","mif-AT 14 d","spir-AT14d"],"range":["#8e8e8e","#2a2a2a","#e2001a","#62a91f"]},"legend":null},
   "size":{"field":"g","type":"nominal","scale":{"domain":["all pre","vehicle-AT 14 d","mif-AT 14 d","spir-AT14d"],"range":[110,280,300,300]},"legend":null}}},
 {"data":{"name":"arr"},"transform":[{"filter":"datum.p=='C4' && datum.g=='v'"}],"mark":{"type":"point","shape":"M-0.42,-1L0.42,-1L0.42,0.05L0.86,0.05L0,1L-0.86,0.05L-0.42,0.05Z","filled":true,"fill":"#2d2d2a","stroke":"#2d2d2a","strokeWidth":0.8,"size":1000,"opacity":1},"encoding":{"x":{"field":"x","type":"quantitative"},"y":{"field":"y","type":"quantitative"}}},
 {"data":{"name":"arr"},"transform":[{"filter":"datum.p=='C4' && datum.g=='m'"}],"mark":{"type":"point","shape":"M-0.42,-1L0.42,-1L0.42,0.05L0.86,0.05L0,1L-0.86,0.05L-0.42,0.05Z","filled":true,"fill":"#e3001b","stroke":"#9a0010","strokeWidth":0.8,"size":1000,"opacity":1},"encoding":{"x":{"field":"x","type":"quantitative"},"y":{"field":"y","type":"quantitative"}}},
 {"data":{"name":"xm"},"transform":[{"filter":"datum.p=='C4' && datum.g=='v'"}],"mark":{"type":"text","text":"X","fontSize":16,"color":"#3d3d3d","baseline":"middle","dy":-11},"encoding":{"x":{"field":"x","type":"quantitative"},"y":{"datum":0,"type":"quantitative"}}},
 {"data":{"name":"xm"},"transform":[{"filter":"datum.p=='C4' && datum.g=='s'"}],"mark":{"type":"text","text":"X","fontSize":16,"color":"#67b22a","baseline":"middle","dy":-11,"dx":2},"encoding":{"x":{"field":"x","type":"quantitative"},"y":{"datum":0,"type":"quantitative"}}},
 {"data":{"name":"xm"},"transform":[{"filter":"datum.p=='C4' && datum.g=='m'"}],"mark":{"type":"text","text":"X","fontSize":16,"color":"#e8362c","baseline":"middle","dy":-11,"dx":5},"encoding":{"x":{"field":"x","type":"quantitative"},"y":{"datum":0,"type":"quantitative"}}},
 {"data":{"name":"ann"},"transform":[{"filter":"datum.p=='C4'"}],"mark":{"type":"text","align":"left","baseline":"middle","fontSize":20,"fontWeight":"bold","color":"#111111","dy":-2},"encoding":{"text":{"field":"wave"},"x":{"datum":-12.3,"type":"quantitative"},"y":{"datum":6,"type":"quantitative"}}}
]}
],
"config": {
 "font": "Liberation Sans",
 "view": {"stroke": null},
 "axis": {"grid": false, "domainColor": "#111111", "domainWidth": 3, "tickColor": "#111111", "labelFont": "Liberation Sans Narrow, Liberation Sans", "labelFontSize": 16, "labelColor": "#222222", "labelOverlap": false, "titleFont": "Liberation Sans", "titleFontSize": 21, "titleFontWeight": "normal", "titleColor": "#222222"},
 "axisX": {"tickSize": 6, "tickWidth": 1.5, "labelPadding": 9, "titlePadding": 12, "labelFlush": false},
 "axisY": {"tickSize": 5, "tickWidth": 3, "labelPadding": 6, "titlePadding": 18}
}
}
